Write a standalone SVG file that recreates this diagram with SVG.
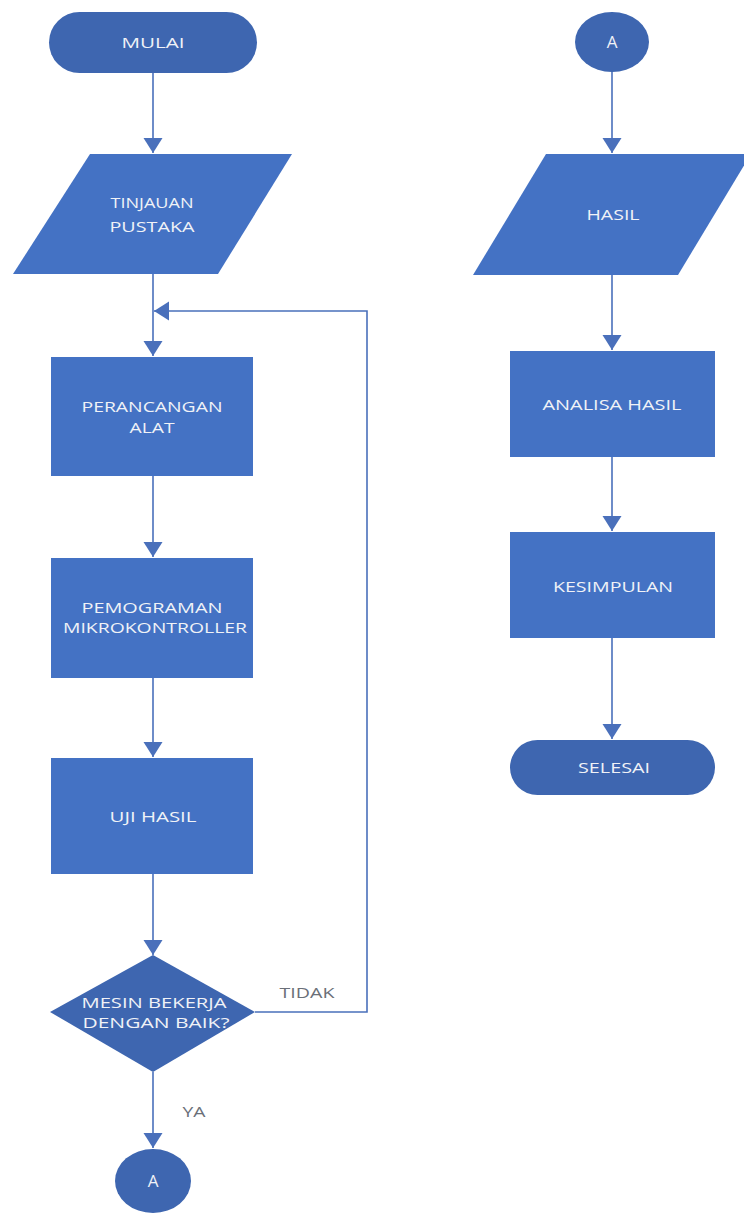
<svg xmlns="http://www.w3.org/2000/svg" width="744" height="1216" viewBox="0 0 744 1216">
  <defs>
    <style>
      .term { fill: #3e66b0; }
      .proc { fill: #4472c4; }
      .io { fill: #4472c4; }
      .dec { fill: #3e66b0; }
      .lbl { font-family: "Open Sans", "Liberation Sans", sans-serif; font-size: 15px; fill: #f0f2f7; text-anchor: middle; }
      .big { font-size: 17px; }
      .edge-lbl { font-family: "Open Sans", "Liberation Sans", sans-serif; font-size: 14px; fill: #6a6f78; text-anchor: middle; }
      .wire { fill: none; stroke: #4a70bb; stroke-width: 1.6; }
    </style>
    <marker id="arrow" markerUnits="userSpaceOnUse" markerWidth="18" markerHeight="20" refX="15" refY="9.5" orient="auto">
      <path d="M0,0 L15,9.5 L0,19 z" fill="#4a70bb"/>
    </marker>
  </defs>

  <rect width="744" height="1216" fill="#ffffff"/>

  <!-- connectors -->
  <g id="connectors">
    <line class="wire" x1="153" y1="73" x2="153" y2="153" marker-end="url(#arrow)"/>
    <line class="wire" x1="153" y1="274" x2="153" y2="356" marker-end="url(#arrow)"/>
    <line class="wire" x1="153" y1="476" x2="153" y2="557" marker-end="url(#arrow)"/>
    <line class="wire" x1="153" y1="678" x2="153" y2="757" marker-end="url(#arrow)"/>
    <line class="wire" x1="153" y1="874" x2="153" y2="955" marker-end="url(#arrow)"/>
    <line class="wire" x1="153" y1="1072" x2="153" y2="1148" marker-end="url(#arrow)"/>
    <polyline class="wire" points="255,1012 367,1012 367,311 154,311" marker-end="url(#arrow)"/>
    <line class="wire" x1="612" y1="72" x2="612" y2="153" marker-end="url(#arrow)"/>
    <line class="wire" x1="612" y1="275" x2="612" y2="350" marker-end="url(#arrow)"/>
    <line class="wire" x1="612" y1="457" x2="612" y2="531" marker-end="url(#arrow)"/>
    <line class="wire" x1="612" y1="638" x2="612" y2="739" marker-end="url(#arrow)"/>
    <text class="edge-lbl" x="307" y="998" textLength="55" lengthAdjust="spacingAndGlyphs">TIDAK</text>
    <text class="edge-lbl" x="194" y="1117" textLength="23" lengthAdjust="spacingAndGlyphs">YA</text>
  </g>

  <!-- left column -->
  <g id="mulai">
    <rect class="term" x="49" y="12" width="208" height="61" rx="30.5"/>
    <text class="lbl" x="153" y="48" textLength="63" lengthAdjust="spacingAndGlyphs">MULAI</text>
  </g>
  <g id="tinjauan-pustaka">
    <polygon class="io" points="90,154 292,154 218,274 13,274"/>
    <text class="lbl" x="152" y="208" textLength="83" lengthAdjust="spacingAndGlyphs">TINJAUAN</text>
    <text class="lbl" x="152" y="232" textLength="85" lengthAdjust="spacingAndGlyphs">PUSTAKA</text>
  </g>
  <g id="perancangan-alat">
    <rect class="proc" x="51" y="357" width="202" height="119"/>
    <text class="lbl" x="152" y="412" textLength="141" lengthAdjust="spacingAndGlyphs">PERANCANGAN</text>
    <text class="lbl" x="152" y="433" textLength="45" lengthAdjust="spacingAndGlyphs">ALAT</text>
  </g>
  <g id="pemograman">
    <rect class="proc" x="51" y="558" width="202" height="120"/>
    <text class="lbl" x="152" y="613" textLength="141" lengthAdjust="spacingAndGlyphs">PEMOGRAMAN</text>
    <text class="lbl" x="155" y="633" textLength="184" lengthAdjust="spacingAndGlyphs">MIKROKONTROLLER</text>
  </g>
  <g id="uji-hasil">
    <rect class="proc" x="51" y="758" width="202" height="116"/>
    <text class="lbl" x="153" y="822" textLength="87" lengthAdjust="spacingAndGlyphs">UJI HASIL</text>
  </g>
  <g id="mesin-bekerja">
    <polygon class="dec" points="153,955 255,1012 153,1072 50,1012"/>
    <text class="lbl" x="154" y="1008" textLength="145" lengthAdjust="spacingAndGlyphs">MESIN BEKERJA</text>
    <text class="lbl" x="156" y="1028" textLength="147" lengthAdjust="spacingAndGlyphs">DENGAN BAIK?</text>
  </g>
  <g id="konektor-a-keluar">
    <ellipse class="term" cx="153" cy="1181" rx="38" ry="32"/>
    <text class="lbl big" x="153" y="1187">A</text>
  </g>

  <!-- right column -->
  <g id="konektor-a-masuk">
    <ellipse class="term" cx="612" cy="42" rx="37" ry="30"/>
    <text class="lbl big" x="612" y="48">A</text>
  </g>
  <g id="hasil">
    <polygon class="io" points="546,154 751,154 678,275 473,275"/>
    <text class="lbl" x="613" y="220" textLength="53" lengthAdjust="spacingAndGlyphs">HASIL</text>
  </g>
  <g id="analisa-hasil">
    <rect class="proc" x="510" y="351" width="205" height="106"/>
    <text class="lbl" x="612" y="410" textLength="139" lengthAdjust="spacingAndGlyphs">ANALISA HASIL</text>
  </g>
  <g id="kesimpulan">
    <rect class="proc" x="510" y="532" width="205" height="106"/>
    <text class="lbl" x="613" y="592" textLength="120" lengthAdjust="spacingAndGlyphs">KESIMPULAN</text>
  </g>
  <g id="selesai">
    <rect class="term" x="510" y="740" width="205" height="55" rx="27.5"/>
    <text class="lbl" x="614" y="773" textLength="72" lengthAdjust="spacingAndGlyphs">SELESAI</text>
  </g>
</svg>
